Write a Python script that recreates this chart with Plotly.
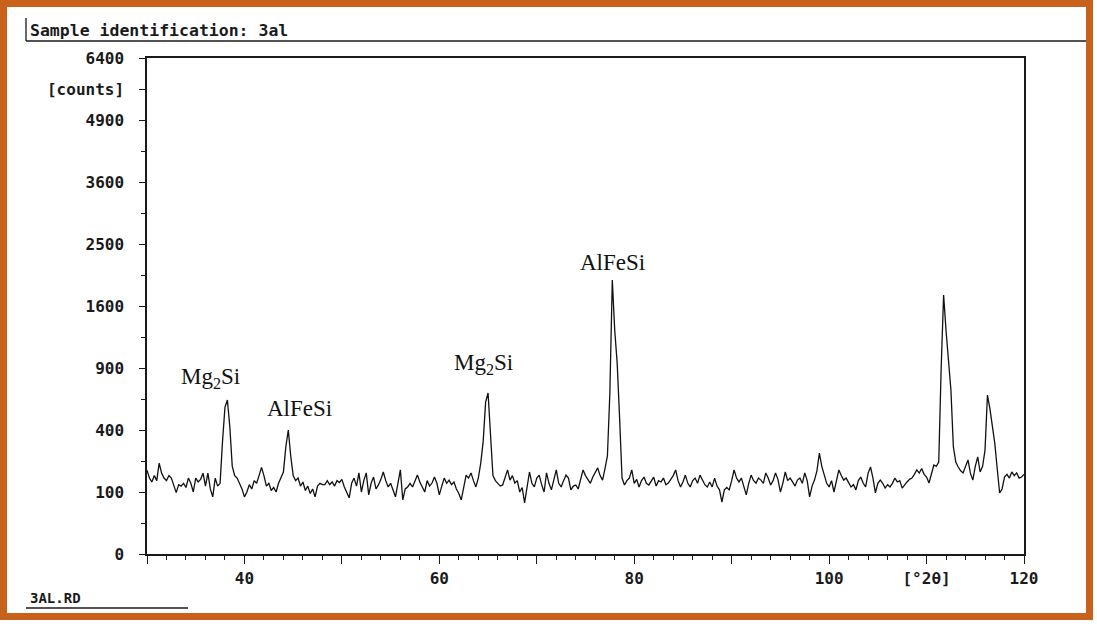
import numpy as np
import plotly.graph_objects as go

# ---- data (counts vs 2-theta, 0.25 deg steps from 30 to 120) ----
theta_start = 30.0
theta_step = 0.25
counts = [
    183, 150, 135, 160,   # 30
    140, 215, 170, 150,   # 31
    140, 160, 150, 120,   # 32
    98, 125, 120, 130,    # 33
    115, 150, 130, 100,   # 34
    150, 135, 145, 170,   # 35
    120, 170, 110, 85,    # 36
    150, 120, 130, 330,   # 37
    560, 617, 420, 200,   # 38
    160, 150, 130, 110,   # 39
    85, 100, 125, 110,    # 40
    140, 130, 160, 195,   # 41
    160, 120, 130, 105,   # 42
    115, 100, 130, 150,   # 43
    175, 300, 400, 250,   # 44
    160, 140, 150, 120,   # 45
    135, 105, 120, 95,    # 46
    110, 85, 120, 130,    # 47
    125, 125, 140, 125,   # 48
    135, 120, 140, 133,   # 49
    145, 117, 100, 82,    # 50
    130, 150, 120, 171,   # 51
    100, 140, 171, 91,    # 52
    130, 154, 110, 124,   # 53
    145, 175, 140, 117,   # 54
    130, 105, 85, 130,    # 55
    184, 76, 110, 117,    # 56
    130, 117, 140, 162,   # 57
    135, 115, 100, 140,   # 58
    120, 131, 154, 130,   # 59
    91, 120, 150, 130,    # 60
    142, 125, 135, 110,   # 61
    95, 76, 120, 162,     # 62
    150, 171, 140, 117,   # 63
    150, 215, 330, 600,   # 64
    674, 330, 160, 140,   # 65
    131, 120, 124, 150,   # 66
    184, 142, 160, 131,   # 67
    140, 100, 115, 68,    # 68
    120, 175, 130, 117,   # 69
    150, 162, 125, 100,   # 70
    171, 130, 107, 150,   # 71
    184, 130, 117, 140,   # 72
    162, 150, 107, 120,   # 73
    124, 110, 150, 184,   # 74
    160, 142, 130, 154,   # 75
    170, 193, 160, 142,   # 76
    190, 250, 674, 1953,  # 77
    1300, 950, 480, 150,  # 78
    124, 140, 150, 184,   # 79
    130, 145, 117, 140,   # 80
    154, 130, 124, 140,   # 81
    154, 120, 140, 135,   # 82
    150, 125, 131, 145,   # 83
    160, 184, 140, 117,   # 84
    135, 162, 130, 117,   # 85
    140, 150, 130, 162,   # 86
    145, 125, 117, 135,   # 87
    117, 150, 120, 107,   # 88
    70, 107, 115, 107,    # 89
    140, 184, 150, 135,   # 90
    150, 120, 91, 130,    # 91
    162, 140, 131, 150,   # 92
    142, 130, 171, 150,   # 93
    124, 140, 171, 145,   # 94
    100, 130, 175, 140,   # 95
    150, 135, 120, 142,   # 96
    150, 130, 171, 140,   # 97
    85, 120, 142, 180,    # 98
    265, 200, 162, 130,   # 99
    117, 140, 100, 140,   # 100
    184, 160, 142, 150,   # 101
    130, 117, 125, 107,   # 102
    140, 154, 130, 117,   # 103
    170, 197, 150, 97,    # 104
    130, 142, 130, 113,   # 105
    125, 117, 130, 150,   # 106
    135, 140, 113, 125,   # 107
    135, 145, 150, 165,   # 108
    184, 170, 190, 165,   # 109
    154, 131, 170, 206,   # 110
    200, 220, 900, 1746,  # 111
    1300, 1000, 700, 300, # 112
    220, 197, 180, 171,   # 113
    200, 230, 170, 142,   # 114
    200, 245, 175, 200,   # 115
    281, 657, 550, 420,   # 116
    320, 190, 97, 110,    # 117
    154, 165, 150, 175,   # 118
    160, 171, 150, 154,   # 119
    165,                  # 120
]
theta = [theta_start + theta_step * i for i in range(len(counts))]

y_tick_counts = [0, 100, 400, 900, 1600, 2500, 3600, 4900, 6400]
y_tick_text = ["0", "100", "400", "900", "1600", "2500", "3600", "4900", "6400"]
y_unit_count = 5625
y_unit_text = "[counts]"
y_minor_counts = [25, 225, 625, 1225, 2025, 3025, 4225]

x_tick_vals = [30, 40, 50, 60, 70, 80, 90, 100, 110, 120]
x_tick_text = ["", "40", "", "60", "", "80", "", "100", "[°2θ]", "120"]

peak_labels = ["Mg<sub>2</sub>Si", "AlFeSi", "Mg<sub>2</sub>Si", "AlFeSi"]
peak_label_theta = [36.5, 45.7, 64.5, 77.75]
peak_label_counts = [806, 552, 936, 2218]

sample_title = "Sample identification: 3al"
file_label = "3AL.RD"

# ---- figure ----
W, H = 1097, 626
L, R, T, B = 147, 1024, 58, 554

def px(x):
    return (x - L) / (R - L)

def py(y):
    return (B - y) / (B - T)

mono = "DejaVu Sans Mono"
ink = "#1a1a1a"

fig = go.Figure()
fig.add_trace(go.Scatter(
    x=theta, y=np.sqrt(np.array(counts, dtype=float)),
    mode="lines", line=dict(color="#111111", width=1.3),
    hoverinfo="skip", showlegend=False,
))

yt_counts = y_tick_counts + [y_unit_count]
yt_text = y_tick_text + [y_unit_text]

fig.update_layout(
    width=W, height=H,
    margin=dict(l=L, r=W - R, t=T, b=H - B, pad=0),
    paper_bgcolor="white", plot_bgcolor="white",
    showlegend=False,
    xaxis=dict(
        range=[30, 120], showgrid=False, zeroline=False,
        showline=True, linecolor=ink, linewidth=1.5, mirror=True,
        ticks="outside", tickvals=x_tick_vals, ticktext=x_tick_text,
        ticklen=8, tickwidth=1.3, tickcolor=ink,
        minor=dict(dtick=2, tick0=30, ticks="outside", ticklen=4,
                   tickwidth=1.2, tickcolor=ink, showgrid=False),
        tickfont=dict(family=mono, size=16, color=ink, weight="bold"),
        ticklabelstandoff=1,
    ),
    yaxis=dict(
        range=[0, 80], showgrid=False, zeroline=False,
        showline=True, linecolor=ink, linewidth=1.5, mirror=True,
        ticks="outside", tickvals=list(np.sqrt(yt_counts)), ticktext=yt_text,
        ticklen=6, tickwidth=1.3, tickcolor=ink,
        minor=dict(tickvals=list(np.sqrt(y_minor_counts)), ticks="outside",
                   ticklen=4, tickwidth=1.2, tickcolor=ink, showgrid=False),
        tickfont=dict(family=mono, size=16, color=ink, weight="bold"),
        ticklabelstandoff=12,
    ),
)

# peak labels
for txt, xv, cv in zip(peak_labels, peak_label_theta, peak_label_counts):
    fig.add_annotation(
        x=xv, y=float(np.sqrt(cv)), xref="x", yref="y", text=txt,
        showarrow=False, xanchor="center", yanchor="middle",
        font=dict(family="Liberation Serif", size=23, color="#111111"),
    )

# header / footer texts
fig.add_annotation(x=px(28), y=py(30), xref="paper", yref="paper",
                   text=sample_title, showarrow=False, xanchor="left",
                   yanchor="middle",
                   font=dict(family=mono, size=16.5, color=ink, weight="bold"))
fig.add_annotation(x=px(28), y=py(598), xref="paper", yref="paper",
                   text=file_label, showarrow=False, xanchor="left",
                   yanchor="middle",
                   font=dict(family=mono, size=14, color=ink, weight="bold"))

# header frame lines
fig.add_shape(type="line", xref="paper", yref="paper",
              x0=px(26), x1=px(26), y0=py(18), y1=py(41),
              line=dict(color=ink, width=1.3))
fig.add_shape(type="line", xref="paper", yref="paper",
              x0=px(26), x1=px(1086), y0=py(41), y1=py(41),
              line=dict(color=ink, width=1.3))
# footer underline
fig.add_shape(type="line", xref="paper", yref="paper",
              x0=px(26), x1=px(188), y0=py(608), y1=py(608),
              line=dict(color=ink, width=1.3))

# orange outer frame
fig.add_shape(type="rect", xref="paper", yref="paper",
              x0=px(3.5), x1=px(1089.5), y0=py(3.5), y1=py(616.5),
              line=dict(color="#C8611C", width=7), fillcolor="rgba(0,0,0,0)",
              layer="above")

fig.write_html(
    "out.html",
    config={"displayModeBar": False},
    post_script="document.body.style.margin='0px';document.body.style.overflow='hidden';",
)
